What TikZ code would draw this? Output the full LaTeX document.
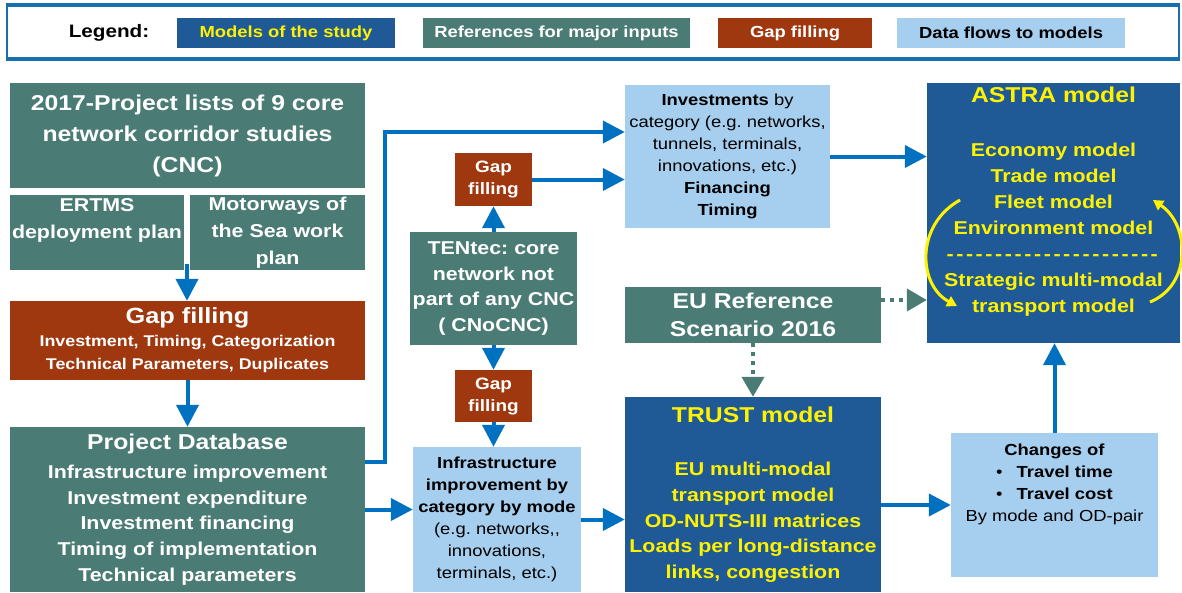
\documentclass[tikz,border=0pt]{standalone}
\usepackage{fontspec}
\setmainfont[FakeStretch=1.15]{Liberation Sans}
\usetikzlibrary{arrows.meta,calc}
\definecolor{modelblue}{RGB}{31,90,150}
\definecolor{refteal}{RGB}{74,123,116}
\definecolor{gapbrown}{RGB}{160,56,15}
\definecolor{flowblue}{RGB}{166,206,238}
\definecolor{flowarrow}{RGB}{0,112,192}
\definecolor{framecol}{RGB}{22,112,176}
\newcommand\bodyfont{\fontsize{18.6}{25.7}\selectfont}
\newcommand\titlefont{\fontsize{21.5}{27}\selectfont}
\newcommand\astradash{\foreach \k in {1,...,22}{-\kern2.6pt}}
\frenchspacing

\begin{document}
\begin{tikzpicture}[x=1pt, y=-1pt,
    modelbox/.style={fill=modelblue, text=yellow, font=\bfseries\bodyfont, align=center, inner sep=0pt},
    refbox/.style={fill=refteal, text=white, font=\bfseries\bodyfont, align=center, inner sep=0pt},
    gapbox/.style={fill=gapbrown, text=white, font=\bfseries\fontsize{16.5}{22}\selectfont, align=center, inner sep=0pt},
    flowbox/.style={fill=flowblue, text=black, font=\fontsize{16}{22}\selectfont, align=center, inner sep=0pt},
    legitem/.style={minimum width=#1, minimum height=30, font=\bfseries\fontsize{16}{20}\selectfont},
    flow/.style={draw=flowarrow, line width=4pt, -{Triangle[length=22pt,width=22pt]}},
    refflow/.style={draw=refteal, line width=4pt, dash pattern=on 4pt off 5pt, -{Triangle[length=20pt,width=22pt]}},
    loopflow/.style={draw=yellow, line width=3pt, -{Triangle[length=10pt,width=11pt]}}]
    \useasboundingbox (0,0) rectangle (1182,592);

    \node[draw=framecol, line width=2pt, minimum width=1172, minimum height=52] (legendframe) at (592.5,32) {};
    \draw[framecol, line width=4pt] (legendframe.north west) -- (legendframe.north east);
    \draw[framecol, line width=4pt] (legendframe.south west) -- (legendframe.south east);
    \node[font=\bfseries\fontsize{18}{22}\selectfont] (legtitle) at (109,33) {Legend:};
    \node[modelbox, legitem=218] (legmodels) at (286,33) {Models of the study};
    \node[refbox, legitem=267] (legrefs) at (556.5,33) {References for major inputs};
    \node[gapbox, legitem=154] (leggap) at (795,33) {Gap filling};
    \node[flowbox, legitem=228] (legflows) at (1011,33) {Data flows to models};

    \node[refbox, minimum width=355, minimum height=105, font=\bfseries\fontsize{21.5}{31}\selectfont] (cnc) at (187.5,135.5)
        {2017-Project lists of 9 core\\ network corridor studies\\ (CNC)};
    \node[refbox, minimum width=174, minimum height=75, font=\bfseries\fontsize{18.6}{27}\selectfont] (ertms) at (97,232.5)
        {ERTMS\\ deployment plan\\ \mbox{}};
    \node[refbox, minimum width=175, minimum height=75, font=\bfseries\fontsize{18.6}{27}\selectfont] (motorways) at (277.5,232.5)
        {Motorways of\\ the Sea work\\ plan};
    \node[gapbox, minimum width=355, minimum height=79, font=\bfseries\fontsize{15.5}{23}\selectfont] (gapfill) at (187.5,340.5)
        {{\fontsize{22}{26}\selectfont Gap filling}\\ Investment, Timing, Categorization\\ Technical Parameters, Duplicates};
    \node[refbox, minimum width=355, minimum height=165] (projdb) at (187.5,509.5)
        {{\titlefont Project Database}\\[3pt] Infrastructure improvement\\ Investment expenditure\\ Investment financing\\ Timing of implementation\\ Technical parameters};

    \node[gapbox, minimum width=77, minimum height=53] (gapinv) at (493.5,179.5) {Gap\\ filling};
    \node[refbox, minimum width=167, minimum height=113] (tentec) at (493.5,288.5)
        {TENtec: core\\ network not\\ part of any CNC\\ ( CNoCNC)};
    \node[gapbox, minimum width=77, minimum height=52] (gapinfra) at (493.5,396) {Gap\\ filling};
    \node[flowbox, minimum width=168, minimum height=145] (infra) at (497,519.5)
        {\textbf{Infrastructure}\\ \textbf{improvement by}\\ \textbf{category by mode}\\ (e.g. networks,{},\\ innovations,\\ terminals, etc.)};

    \node[flowbox, minimum width=205, minimum height=143] (invest) at (727.5,156.5)
        {\textbf{Investments} by\\ category (e.g. networks,\\ tunnels, terminals,\\ innovations, etc.)\\ \textbf{Financing}\\ \textbf{Timing}};
    \node[refbox, minimum width=256, minimum height=56, font=\bfseries\fontsize{21.5}{28}\selectfont] (euref) at (753,315)
        {EU Reference\\ Scenario 2016};
    \node[modelbox, minimum width=256, minimum height=195] (trust) at (753,494.5)
        {{\titlefont TRUST model}\\[28pt] EU multi-modal\\ transport model\\ OD-NUTS-III matrices\\ Loads per long-distance\\ links, congestion};

    \node[modelbox, minimum width=253, minimum height=260, font=\bfseries\fontsize{18.6}{26}\selectfont] (astra) at (1053.5,213)
        {{\titlefont ASTRA model}\\[28pt] Economy model\\ Trade model\\ Fleet model\\ Environment model\\ \astradash\\ Strategic multi-modal\\ transport model\\ \mbox{}};
    \node[flowbox, minimum width=207, minimum height=144] (changes) at (1054.5,505)
        {\textbf{Changes of}\\ •\hspace{14pt}\textbf{Travel time}\\ •\hspace{14pt}\textbf{Travel cost}\\ By mode and OD-pair\\ \mbox{}\\ \mbox{}};

    \draw[loopflow] (960,200) .. controls (915,225) and (918,285) .. (957,306);
    \draw[loopflow] (1150,302) .. controls (1192,285) and (1190,225) .. (1153,200);

    \coordinate (planjoin) at ($(ertms.south east)!0.5!(motorways.south west)+(0,-6)$);
    \coordinate (dbout) at ([yshift=47.5pt]projdb.east);
    \coordinate (invin) at ([yshift=24.5pt]invest.west);
    \coordinate (euout) at ([yshift=15pt]euref.east);
    \draw[flow] (planjoin) -- (planjoin |- gapfill.north);
    \draw[flow] (gapfill.south) -- (projdb.north);
    \draw[flow] (dbout) -- ++(20,0) |- (invin);
    \draw[flow] (projdb.east) -- (infra.west |- projdb.east);
    \draw[flow] (gapinv.east) -- (invest.west |- gapinv.east);
    \draw[flow] (tentec.north) -- (gapinv.south);
    \draw[flow] (tentec.south) -- (gapinfra.north);
    \draw[flow] (gapinfra.south) -- (gapinfra.south |- infra.north);
    \draw[flow] (infra.east) -- (trust.west |- infra.east);
    \draw[flow] (invest.east) -- (astra.west |- invest.east);
    \draw[flow] (changes.west -| trust.east) -- (changes.west);
    \draw[flow] (changes.north) -- (astra.south -| changes.north);
    \draw[refflow] (euout) -- (euout -| astra.west);
    \draw[refflow] (euref.south) -- (trust.north);
\end{tikzpicture}
\end{document}
